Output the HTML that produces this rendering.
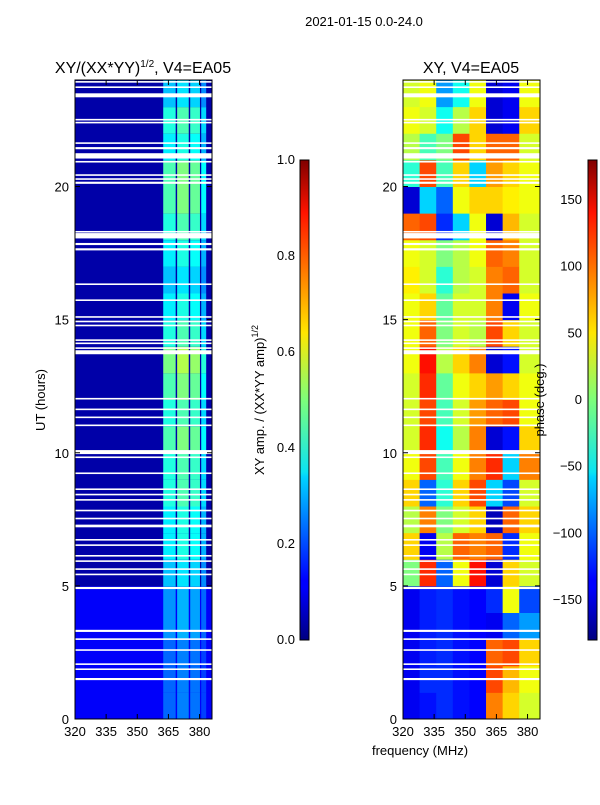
<!DOCTYPE html>
<html><head><meta charset="utf-8"><style>
body{margin:0;background:#fff;width:600px;height:800px;overflow:hidden;font-family:"Liberation Sans",sans-serif}
svg text{font-family:"Liberation Sans",sans-serif;fill:#000}
</style></head><body>
<svg id="fig" width="600" height="800" viewBox="0 0 600 800" xmlns="http://www.w3.org/2000/svg">
<defs>
<linearGradient id="jet" x1="0" y1="1" x2="0" y2="0">
<stop offset="0" stop-color="#000080"/><stop offset="0.11" stop-color="#0000ff"/><stop offset="0.125" stop-color="#0000ff"/>
<stop offset="0.34" stop-color="#00d4ff"/><stop offset="0.35" stop-color="#0ae4f3"/><stop offset="0.5" stop-color="#7dff7a"/>
<stop offset="0.64" stop-color="#ffe600"/><stop offset="0.89" stop-color="#ff1300"/><stop offset="1" stop-color="#800000"/>
</linearGradient>
</defs>
<text x="364" y="26" font-size="13" text-anchor="middle">2021-01-15 0.0-24.0</text>
<text x="143" y="73" font-size="16" text-anchor="middle">XY/(XX*YY)<tspan font-size="10" dy="-6">1/2</tspan><tspan dy="6">, V4=EA05</tspan></text>
<text x="471" y="73" font-size="16" text-anchor="middle">XY, V4=EA05</text>
<g id="ampPanel"></g>
<g id="phPanel"></g>
<g id="axes"></g>
<rect x="300" y="160" width="9" height="480" fill="url(#jet)" stroke="#000" stroke-width="1"/>
<rect x="588" y="160" width="9" height="480" fill="url(#jet)" stroke="#000" stroke-width="1"/>
<text transform="translate(45,400) rotate(-90)" font-size="13" text-anchor="middle">UT (hours)</text>
<text transform="translate(264,400) rotate(-90)" font-size="13" text-anchor="middle">XY amp. / (XX*YY amp)<tspan font-size="9" dy="-6">1/2</tspan></text>
<text transform="translate(544,400) rotate(-90)" font-size="13" text-anchor="middle">phase (deg.)</text>
<text x="420" y="755" font-size="13" text-anchor="middle">frequency (MHz)</text>
</svg>
<script>
const hoursTicks=[0,5,10,15,20];
const freqTicks=[320,335,350,365,380];
const ampTicks=[0.0,0.2,0.4,0.6,0.8,1.0];
const phaseTicks=[-150,-100,-50,0,50,100,150];
const flaggedStart=[23.9,23.7,23.35,22.48,22.37,21.6,21.4,21.05,20.9,20.4,20.25,20.1,18.27,18.05,17.8,17.6,16.3,15.7,15.07,14.9,14.75,14.2,14.08,13.9,13.7,12.0,11.6,11.3,11.0,9.95,9.8,9.2,8.6,8.4,8.2,7.8,7.5,7.2,6.7,6.5,6.1,5.9,5.6,5.4,4.88,3.27,2.97,2.56,2.03,1.84,1.46];
const flaggedWidth=[0.06,0.06,0.15,0.06,0.06,0.06,0.08,0.2,0.06,0.06,0.06,0.08,0.06,0.2,0.08,0.08,0.06,0.06,0.06,0.06,0.06,0.06,0.06,0.06,0.15,0.06,0.06,0.06,0.06,0.15,0.06,0.06,0.06,0.06,0.06,0.06,0.06,0.1,0.06,0.06,0.06,0.06,0.06,0.06,0.08,0.08,0.06,0.06,0.06,0.06,0.08];
const ampHour=[0.25,0.25,0.25,0.3,0.3,0.35,0.4,0.4,0.45,0.45,0.5,0.45,0.5,0.55,0.45,0.4,0.35,0.4,0.45,0.5,0.5,0.4,0.45,0.35];
const ampStripeLo=[362.5,369.2,375.5,380.8];
const ampStripeHi=[368.5,374.8,380.2,383.2];
const ampStripeGain=[0.9,1.0,0.95,0.75];
const phaseColLo=[320,328,336,344,352,360,368,376];
const phaseColHi=[328,336,344,352,360,368,376,386];
const phaseGrid=[
[-140,-130,-120,-130,-135,90,60,30],
[-140,-120,-120,-130,-135,110,70,40],
[-140,-125,-120,-130,-135,100,110,60],
[-140,-125,-120,-130,-135,-140,-100,-80],
[-140,-125,-120,-130,-135,-120,40,-110],
[0,120,-100,40,130,-150,60,30],
[60,-140,20,100,90,100,-120,40],
[20,90,0,30,60,-160,100,60],
[60,-100,-30,60,110,-60,-110,30],
[40,110,-20,40,90,120,-60,90],
[30,120,-40,20,90,-150,-130,60],
[30,110,-20,30,80,100,110,40],
[30,120,-10,40,60,80,60,40],
[40,130,20,60,90,-150,-130,30],
[40,100,0,30,20,110,60,30],
[40,60,-10,30,30,90,-140,40],
[50,30,-30,20,30,90,100,30],
[40,30,0,20,40,100,90,30],
[100,110,-120,-60,40,-150,70,30],
[-150,-60,-100,40,60,60,50,40],
[-30,110,-20,60,-60,80,60,40],
[20,-20,0,110,60,100,100,30],
[40,30,-40,20,60,-150,-140,60],
[30,40,-80,-40,40,-150,-140,40]];
const NS='http://www.w3.org/2000/svg';
const F0=320,F1=386,PW=137,YB=719,PH=639;
function xs(f,x0){return x0+(f-F0)/(F1-F0)*PW;}
function ys(h){return YB-h/24*PH;}
function jet(v){v=Math.max(0,Math.min(1,v));
 const r=Math.min(4*v-1.5,-4*v+4.5),g=Math.min(4*v-0.5,-4*v+3.5),b=Math.min(4*v+0.5,-4*v+2.5);
 const c=x=>Math.round(255*Math.max(0,Math.min(1,x)));return `rgb(${c(r)},${c(g)},${c(b)})`;}
function rect(g,x,y,w,h,fill,name){const r=document.createElementNS(NS,'rect');
 r.setAttribute('x',x);r.setAttribute('y',y);r.setAttribute('width',w);r.setAttribute('height',h);r.setAttribute('fill',fill);
 
 
 g.appendChild(r);return r;}
const ampG=document.getElementById('ampPanel'),phG=document.getElementById('phPanel'),ax=document.getElementById('axes');
const AX0=75,PX0=403;
for(let h=0;h<24;h++){
 rect(ampG,AX0,ys(h+1),PW,PH/24+0.5,jet(h<5?0.12:0.04),'amp-cell');
 for(let s=0;s<ampStripeLo.length;s++){
  const x1=xs(ampStripeLo[s],AX0),x2=xs(ampStripeHi[s],AX0);
  rect(ampG,x1,ys(h+1),x2-x1,PH/24+0.5,jet(ampHour[h]*ampStripeGain[s]),'amp-cell');
 }
}
for(let h=0;h<24;h++)for(let c=0;c<phaseColLo.length;c++){
 const x1=xs(phaseColLo[c],PX0),x2=xs(phaseColHi[c],PX0);
 rect(phG,x1,ys(h+1),x2-x1+0.5,PH/24+0.5,jet((phaseGrid[h][c]+180)/360),'phase-cell');
}
for(let i=0;i<flaggedStart.length;i++){
 const y1=ys(flaggedStart[i]+flaggedWidth[i]),hh=flaggedWidth[i]/24*PH;
 rect(ampG,AX0,y1,PW,hh,'#fff','flagged-row');
 rect(phG,PX0,y1,PW,hh,'#fff','flagged-row');
}
function line(x1,y1,x2,y2,name){const l=document.createElementNS(NS,'line');
 l.setAttribute('x1',x1);l.setAttribute('y1',y1);l.setAttribute('x2',x2);l.setAttribute('y2',y2);l.setAttribute('stroke','#000');
 
 
 ax.appendChild(l);}
function txt(x,y,s,anchor,name){const t=document.createElementNS(NS,'text');
 t.setAttribute('x',x);t.setAttribute('y',y);t.setAttribute('font-size','13');t.setAttribute('text-anchor',anchor);t.textContent=s;
 
 
 ax.appendChild(t);}
[AX0,PX0].forEach(x0=>{
 const fr=rect(ax,x0,ys(24),PW,PH,'none','plot-frame');fr.setAttribute('stroke','#000');
 hoursTicks.forEach(h=>{const y=ys(h);line(x0,y,x0+5,y,'y-tick');line(x0+PW,y,x0+PW-5,y,'y-tick');txt(x0-6,y+5,String(h),'end','y-tick-label');});
 freqTicks.forEach(f=>{const x=xs(f,x0);line(x,YB,x,YB-5,'x-tick');line(x,ys(24),x,ys(24)+5,'x-tick');txt(x,736,String(f),'middle','x-tick-label');});
});
ampTicks.forEach(v=>{const y=640-v*480;line(300,y,304,y,'amp-colorbar-tick');txt(295,y+4,v.toFixed(1),'end','amp-colorbar-label');});
phaseTicks.forEach(v=>{const y=640-(v+180)/360*480;line(588,y,592,y,'phase-colorbar-tick');txt(582,y+4,String(v).replace('-','\u2212'),'end','phase-colorbar-label');});
</script>
</body></html>
